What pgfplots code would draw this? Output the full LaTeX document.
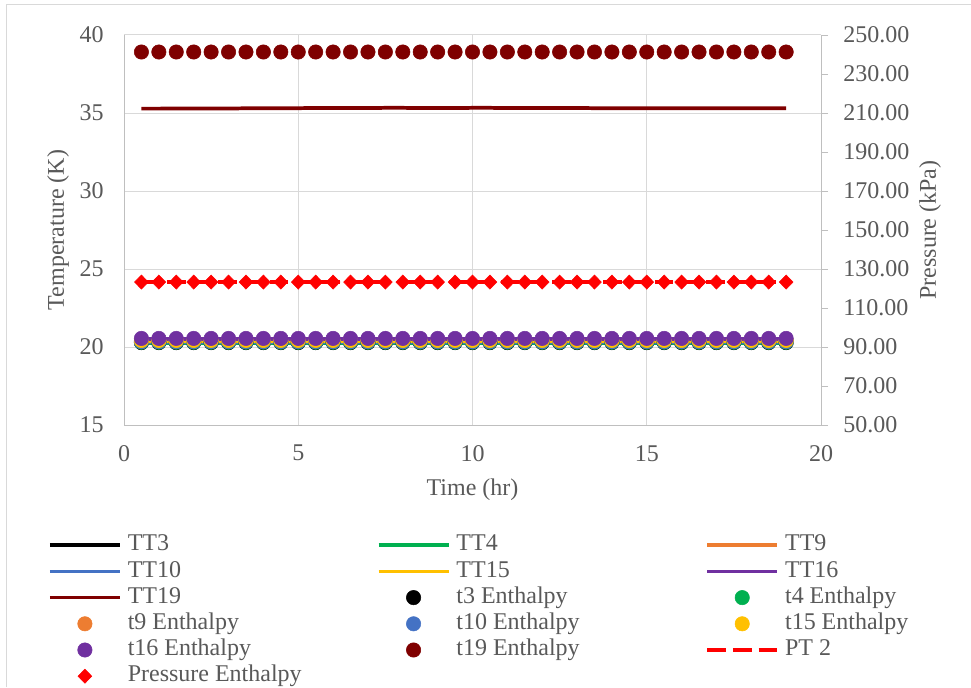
\documentclass[border=0pt]{standalone}
\usepackage{fontspec}
\setmainfont{Liberation Serif}
\usepackage{pgfplots}
\usepackage{pgfplotstable}
\pgfplotsset{compat=1.18}

\definecolor{txt}{HTML}{595959}
\definecolor{gridc}{HTML}{D9D9D9}
\definecolor{axc}{HTML}{BFBFBF}
\definecolor{c3}{HTML}{000000}
\definecolor{c4}{HTML}{00B050}
\definecolor{c9}{HTML}{ED7D31}
\definecolor{c10}{HTML}{4472C4}
\definecolor{c15}{HTML}{FFC000}
\definecolor{c16}{HTML}{7030A0}
\definecolor{c19}{HTML}{7F0000}
\definecolor{cp}{HTML}{FF0000}

% temperatures (K) and pressures (kPa) against time (hr)
\pgfplotstableread{
t    TT3   TT4   TT9   TT10  TT15  TT16  TT19  e3    e4    e9    e10   e15   e16   e19   PT    PE
0.5  20.22 20.26 20.32 20.30 20.36 20.50 35.28 20.28 20.31 20.37 20.34 20.42 20.55 38.91 123.3 123.3
1.0  20.22 20.26 20.32 20.30 20.36 20.50 35.28 20.28 20.31 20.37 20.34 20.42 20.55 38.91 123.3 123.3
1.5  20.22 20.26 20.32 20.30 20.36 20.50 35.29 20.28 20.31 20.37 20.34 20.42 20.55 38.91 123.3 123.3
2.0  20.22 20.26 20.32 20.30 20.36 20.50 35.29 20.28 20.31 20.37 20.34 20.42 20.55 38.91 123.3 123.3
2.5  20.22 20.26 20.32 20.30 20.36 20.50 35.29 20.28 20.31 20.37 20.34 20.42 20.55 38.91 123.3 123.3
3.0  20.22 20.26 20.32 20.30 20.36 20.50 35.29 20.28 20.31 20.37 20.34 20.42 20.55 38.91 123.3 123.3
3.5  20.22 20.26 20.32 20.30 20.36 20.50 35.30 20.28 20.31 20.37 20.34 20.42 20.55 38.91 123.3 123.3
4.0  20.22 20.26 20.32 20.30 20.36 20.50 35.31 20.28 20.31 20.37 20.34 20.42 20.55 38.91 123.3 123.3
4.5  20.22 20.26 20.32 20.30 20.36 20.50 35.30 20.28 20.31 20.37 20.34 20.42 20.55 38.91 123.3 123.3
5.0  20.22 20.26 20.32 20.30 20.36 20.50 35.31 20.28 20.31 20.37 20.34 20.42 20.55 38.91 123.3 123.3
5.5  20.22 20.26 20.32 20.30 20.36 20.50 35.32 20.28 20.31 20.37 20.34 20.42 20.55 38.91 123.3 123.3
6.0  20.22 20.26 20.32 20.30 20.36 20.50 35.32 20.28 20.31 20.37 20.34 20.42 20.55 38.91 123.3 123.3
6.5  20.22 20.26 20.32 20.30 20.36 20.50 35.32 20.28 20.31 20.37 20.34 20.42 20.55 38.91 123.3 123.3
7.0  20.22 20.26 20.32 20.30 20.36 20.50 35.32 20.28 20.31 20.37 20.34 20.42 20.55 38.91 123.3 123.3
7.5  20.22 20.26 20.32 20.30 20.36 20.50 35.33 20.28 20.31 20.37 20.34 20.42 20.55 38.91 123.3 123.3
8.0  20.22 20.26 20.32 20.30 20.36 20.50 35.33 20.28 20.31 20.37 20.34 20.42 20.55 38.91 123.3 123.3
8.5  20.22 20.26 20.32 20.30 20.36 20.50 35.32 20.28 20.31 20.37 20.34 20.42 20.55 38.91 123.3 123.3
9.0  20.22 20.26 20.32 20.30 20.36 20.50 35.32 20.28 20.31 20.37 20.34 20.42 20.55 38.91 123.3 123.3
9.5  20.22 20.26 20.32 20.30 20.36 20.50 35.32 20.28 20.31 20.37 20.34 20.42 20.55 38.91 123.3 123.3
10.0 20.22 20.26 20.32 20.30 20.36 20.50 35.33 20.28 20.31 20.37 20.34 20.42 20.55 38.91 123.3 123.3
10.5 20.22 20.26 20.32 20.30 20.36 20.50 35.33 20.28 20.31 20.37 20.34 20.42 20.55 38.91 123.3 123.3
11.0 20.22 20.26 20.32 20.30 20.36 20.50 35.32 20.28 20.31 20.37 20.34 20.42 20.55 38.91 123.3 123.3
11.5 20.22 20.26 20.32 20.30 20.36 20.50 35.32 20.28 20.31 20.37 20.34 20.42 20.55 38.91 123.3 123.3
12.0 20.22 20.26 20.32 20.30 20.36 20.50 35.32 20.28 20.31 20.37 20.34 20.42 20.55 38.91 123.3 123.3
12.5 20.22 20.26 20.32 20.30 20.36 20.50 35.32 20.28 20.31 20.37 20.34 20.42 20.55 38.91 123.3 123.3
13.0 20.22 20.26 20.32 20.30 20.36 20.50 35.32 20.28 20.31 20.37 20.34 20.42 20.55 38.91 123.3 123.3
13.5 20.22 20.26 20.32 20.30 20.36 20.50 35.31 20.28 20.31 20.37 20.34 20.42 20.55 38.91 123.3 123.3
14.0 20.22 20.26 20.32 20.30 20.36 20.50 35.31 20.28 20.31 20.37 20.34 20.42 20.55 38.91 123.3 123.3
14.5 20.22 20.26 20.32 20.30 20.36 20.50 35.31 20.28 20.31 20.37 20.34 20.42 20.55 38.91 123.3 123.3
15.0 20.22 20.26 20.32 20.30 20.36 20.50 35.31 20.28 20.31 20.37 20.34 20.42 20.55 38.91 123.3 123.3
15.5 20.22 20.26 20.32 20.30 20.36 20.50 35.31 20.28 20.31 20.37 20.34 20.42 20.55 38.91 123.3 123.3
16.0 20.22 20.26 20.32 20.30 20.36 20.50 35.31 20.28 20.31 20.37 20.34 20.42 20.55 38.91 123.3 123.3
16.5 20.22 20.26 20.32 20.30 20.36 20.50 35.31 20.28 20.31 20.37 20.34 20.42 20.55 38.91 123.3 123.3
17.0 20.22 20.26 20.32 20.30 20.36 20.50 35.31 20.28 20.31 20.37 20.34 20.42 20.55 38.91 123.3 123.3
17.5 20.22 20.26 20.32 20.30 20.36 20.50 35.30 20.28 20.31 20.37 20.34 20.42 20.55 38.91 123.3 123.3
18.0 20.22 20.26 20.32 20.30 20.36 20.50 35.31 20.28 20.31 20.37 20.34 20.42 20.55 38.91 123.3 123.3
18.5 20.22 20.26 20.32 20.30 20.36 20.50 35.31 20.28 20.31 20.37 20.34 20.42 20.55 38.91 123.3 123.3
19.0 20.22 20.26 20.32 20.30 20.36 20.50 35.31 20.28 20.31 20.37 20.34 20.42 20.55 38.91 123.3 123.3
}\data

\newcommand{\lf}{\fontsize{18}{21.6}\selectfont}
\newcommand{\entry}[1]{\makebox[186.7pt][l]{#1}}

\pgfplotsset{
  lineleg/.style={legend image code/.code={%
      \draw[##1] (0pt,0pt) -- (52.5pt,0pt);}},
  markleg/.style={legend image code/.code={%
      \path[draw=none] (0pt,0pt) (52.5pt,0pt);
      \path[##1, draw=none] plot[only marks] coordinates {(26.25pt,0pt)};}},
  trace/.style={color=#1, line width=2.8pt, mark=none},
  dot/.style={only marks, mark=*, mark size=5.4pt, color=#1,
      mark options={solid, line width=0.4pt, draw=#1, fill=#1}},
  base/.style={
    at={(93pt,196.5pt)}, anchor=south west,
    scale only axis, width=522.75pt, height=292.5pt,
    xmin=0, xmax=20,
    /pgf/number format/assume math mode=true,
    axis line style={draw=axc, line width=0.75pt, -},
    tick label style={font=\lf, text=txt},
    label style={font=\lf, text=txt},
  },
}

\begin{document}
\begin{tikzpicture}
\path[use as bounding box] (0,0) rectangle (728.25pt,515.25pt);
\draw[gridc, line width=0.75pt] (4.9pt,0pt) -- (4.9pt,511.5pt) -- (728.25pt,511.5pt);

% temperature axis (left)
\begin{axis}[base,
  ymin=15, ymax=40,
  xtick={0,5,...,20}, ytick={15,20,...,40},
  axis x line*=bottom, axis y line*=left,
  grid=major, major grid style={draw=gridc, line width=0.75pt},
  major tick length=0pt,
  xticklabel style={anchor=north, inner sep=0pt, yshift=-15pt},
  yticklabel style={anchor=east, inner sep=0pt, xshift=-15pt},
  xlabel={Time (hr)}, ylabel={Temperature (K)},
  xlabel style={at={(axis description cs:0.5,-0.1667)}, anchor=center},
  ylabel style={at={(axis description cs:-0.0947,0.5)}, anchor=center},
]
\addplot[trace=c3]  table[x=t,y=TT3]{\data};
\addplot[trace=c4]  table[x=t,y=TT4]{\data};
\addplot[trace=c9]  table[x=t,y=TT9]{\data};
\addplot[trace=c10] table[x=t,y=TT10]{\data};
\addplot[trace=c15] table[x=t,y=TT15]{\data};
\addplot[trace=c16] table[x=t,y=TT16]{\data};
\addplot[trace=c19] table[x=t,y=TT19]{\data};
\addplot[dot=c3]  table[x=t,y=e3]{\data};
\addplot[dot=c4]  table[x=t,y=e4]{\data};
\addplot[dot=c9]  table[x=t,y=e9]{\data};
\addplot[dot=c10] table[x=t,y=e10]{\data};
\addplot[dot=c15] table[x=t,y=e15]{\data};
\addplot[dot=c16] table[x=t,y=e16]{\data};
\addplot[dot=c19] table[x=t,y=e19]{\data};
\end{axis}

% pressure axis (right) carrying the legend
\begin{axis}[base,
  ymin=50, ymax=250, ytick={50,70,...,250},
  axis x line=none, axis y line*=right,
  tick align=outside, major tick length=5.25pt,
  tick style={draw=axc, line width=0.75pt},
  /pgf/number format/.cd, fixed, fixed zerofill, precision=2, /pgfplots/.cd,
  yticklabel style={anchor=west, inner sep=0pt, xshift=11.3pt},
  ylabel={Pressure (kPa)},
  ylabel style={at={(axis description cs:1.1564,0.5)}, anchor=center},
  legend columns=3, legend cell align=left,
  legend style={at={(axis description cs:-0.109,-0.2746)}, anchor=north west,
    draw=none, fill=none, inner sep=0pt, outer sep=0pt, row sep=0pt,
    font=\lf, text=txt,
    nodes={inner sep=0pt, text height=14.1pt, text depth=5.55pt},
    /tikz/every odd column/.append style={column sep=4.5pt}},
]
\addlegendimage{lineleg, trace=c3}  \addlegendentry{\entry{TT3}}
\addlegendimage{lineleg, trace=c4}  \addlegendentry{\entry{TT4}}
\addlegendimage{lineleg, trace=c9}  \addlegendentry{\entry{TT9}}
\addlegendimage{lineleg, trace=c10} \addlegendentry{\entry{TT10}}
\addlegendimage{lineleg, trace=c15} \addlegendentry{\entry{TT15}}
\addlegendimage{lineleg, trace=c16} \addlegendentry{\entry{TT16}}
\addlegendimage{lineleg, trace=c19} \addlegendentry{\entry{TT19}}
\addlegendimage{markleg, dot=c3}  \addlegendentry{\entry{t3 Enthalpy}}
\addlegendimage{markleg, dot=c4}  \addlegendentry{\entry{t4 Enthalpy}}
\addlegendimage{markleg, dot=c9}  \addlegendentry{\entry{t9 Enthalpy}}
\addlegendimage{markleg, dot=c10} \addlegendentry{\entry{t10 Enthalpy}}
\addlegendimage{markleg, dot=c15} \addlegendentry{\entry{t15 Enthalpy}}
\addlegendimage{markleg, dot=c16} \addlegendentry{\entry{t16 Enthalpy}}
\addlegendimage{markleg, dot=c19} \addlegendentry{\entry{t19 Enthalpy}}
\addplot[lineleg, trace=cp, dash pattern=on 14pt off 5.25pt]
  table[x=t,y=PT]{\data};
\addlegendentry{\entry{PT 2}}
\addplot[markleg, only marks, mark=diamond*, mark size=5.3pt, color=cp,
  mark options={solid, xscale=1.3, line width=0.4pt, draw=cp, fill=cp}]
  table[x=t,y=PE]{\data};
\addlegendentry{\entry{Pressure Enthalpy}}
\end{axis}
\end{tikzpicture}
\end{document}
